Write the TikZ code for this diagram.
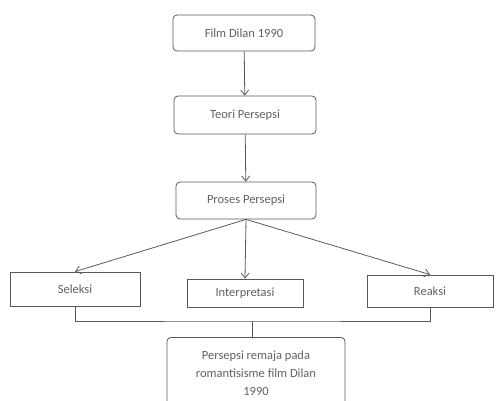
\documentclass[tikz,border=0pt]{standalone}
\usepackage{fontspec}
\setmainfont{Carlito}
\usetikzlibrary{arrows.meta}
\tikzset{
    kotak/.style={draw=black!65,line width=0.8pt,rounded corners=4pt,text=black!62,font=\fontsize{12.5}{18}\selectfont,align=center,inner sep=0pt},
    kotaksiku/.style={kotak,rounded corners=0pt},
    panah/.style={draw=black!65,line width=0.8pt,-{Straight Barb[length=5pt,width=8pt]}},
    garis/.style={draw=black!65,line width=0.8pt}
}
\begin{document}
\begin{tikzpicture}[x=1pt,y=-1pt]
        \useasboundingbox (0,0) rectangle (498,401);
        %% alur atas
        \node[kotak,minimum width=142pt,minimum height=36pt] (film) at (244,33) {Film Dilan 1990};
        \node[kotak,minimum width=142pt,minimum height=38pt] (teori) at (245,115) {Teori Persepsi};
        \node[kotak,minimum width=140pt,minimum height=37pt] (proses) at (246,200.5) {Proses Persepsi};
        %% tiga tahap
        \node[kotaksiku,minimum width=130pt,minimum height=34pt] (seleksi) at (75,289) {Seleksi};
        \node[kotaksiku,minimum width=116pt,minimum height=28pt] (interpretasi) at (245,293) {Interpretasi};
        \node[kotaksiku,minimum width=126pt,minimum height=32pt] (reaksi) at (430,291) {Reaksi};
        %% hasil
        \node[kotak,minimum width=178pt,minimum height=80pt,anchor=north] (hasil) at (256,337) {};
        \node[kotak,draw=none,anchor=north] (teks) at (256,350) {Persepsi remaja pada\\romantisisme film Dilan\\1990};
        %% panah
        \draw[panah] (film) -- (teori);
        \draw[panah] (teori) -- (proses);
        \draw[panah] (proses.south) -- (seleksi.north);
        \draw[panah] (proses.south) -- (interpretasi.north);
        \draw[panah] (proses.south) -- (reaksi.north);
        %% gabungan
        \coordinate (gabung) at (252,321);
        \draw[garis] (seleksi.south) |- (gabung) -| (reaksi.south);
        \draw[garis] (gabung) -- (gabung |- hasil.north);
    \end{tikzpicture}
\end{document}
